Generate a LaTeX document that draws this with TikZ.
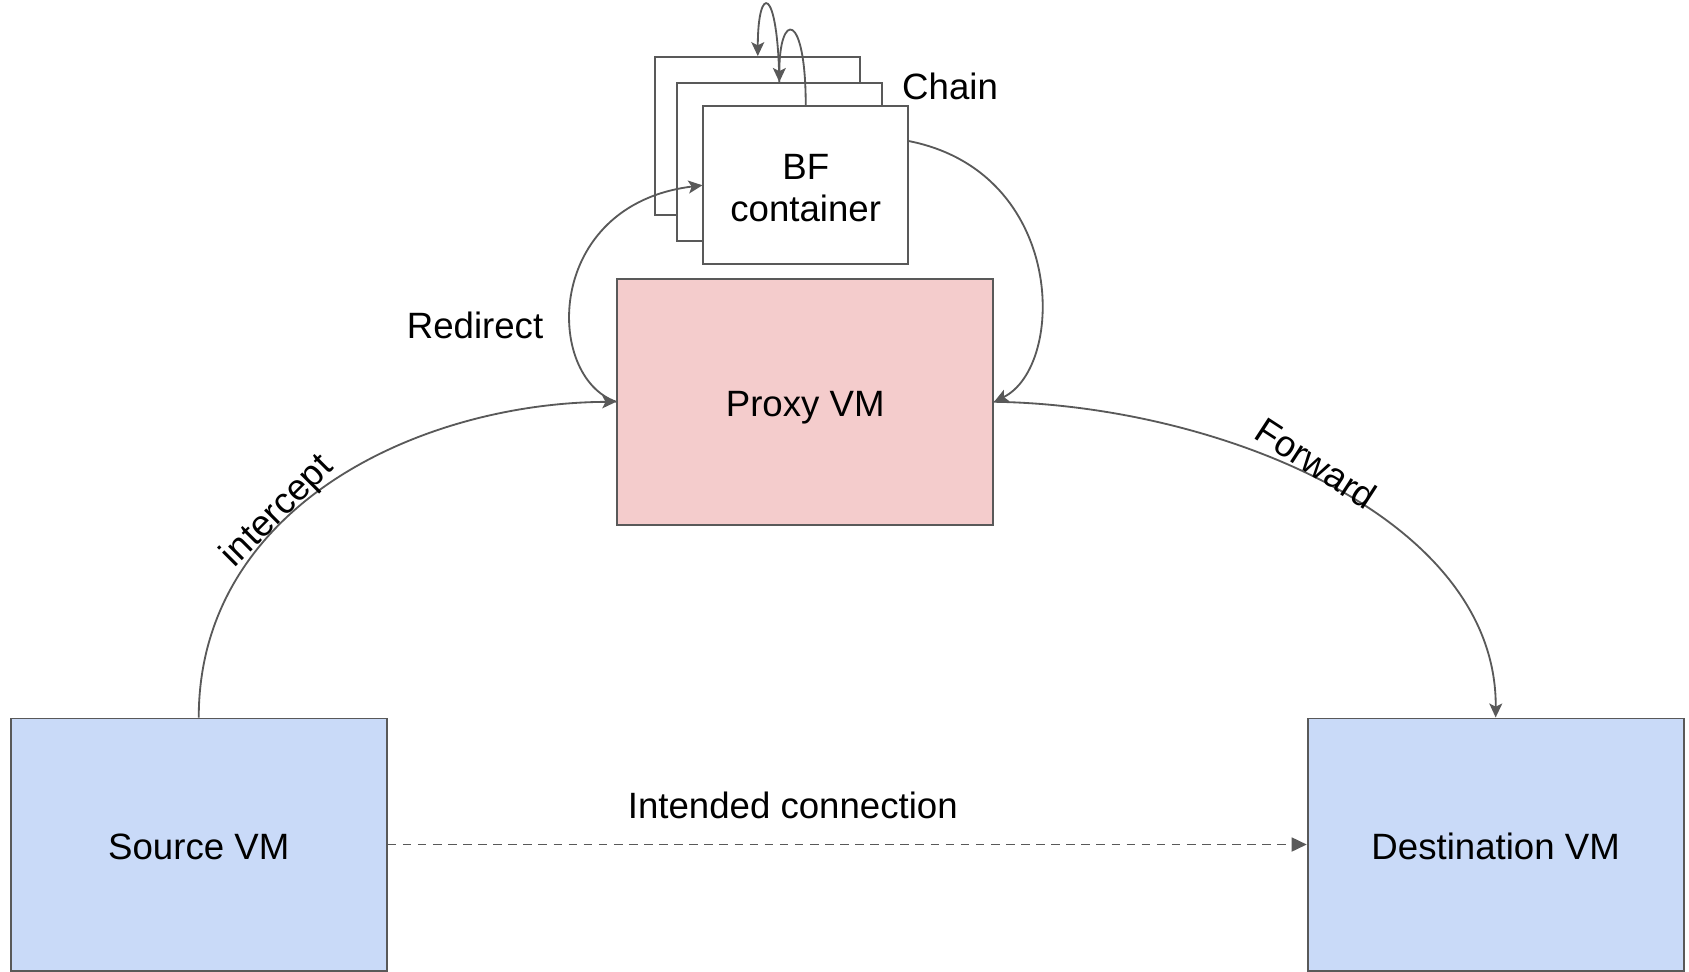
\documentclass[tikz,border=0pt]{standalone}
\usepackage{fontspec}
\setmainfont{Liberation Sans}
\usetikzlibrary{arrows.meta}
\definecolor{boxblue}{HTML}{C9DAF8}
\definecolor{boxpink}{HTML}{F4CCCC}
\definecolor{edge}{HTML}{595959}
\begin{document}
\begin{tikzpicture}[x=1pt,y=-1pt,
  font=\fontsize{34}{40}\selectfont,
  vmbox/.style={draw=edge,line width=1.8pt,inner sep=0pt,align=center,text height=34pt,text depth=7pt},
  cbox/.style={draw=edge,line width=1.8pt,fill=white,inner sep=0pt,minimum width=190pt,minimum height=147pt},
  conn/.style={draw=edge,line width=1.7pt,-{Stealth[length=13pt,width=12pt,inset=3pt]}},
  dconn/.style={draw=edge,line width=1.7pt,dash pattern=on 8pt off 6pt,-{Triangle[length=14pt,width=13pt]}},
  lbl/.style={inner sep=0pt,text=black}]
\useasboundingbox (0,0) rectangle (1568,902);
% boxes
\node[vmbox,fill=boxblue,minimum width=349pt,minimum height=234pt] (src) at (184.5,784) {Source VM};
\node[vmbox,fill=boxblue,minimum width=349pt,minimum height=234pt] (dst) at (1388.5,784) {Destination VM};
\node[vmbox,fill=boxpink,minimum width=349pt,minimum height=228pt] (proxy) at (747.5,373) {Proxy VM};
\node[cbox] (back) at (703.5,126.5) {};
\node[cbox] (mid) at (723.5,150.5) {};
\node[cbox] (front) at (748,172) {};
\node[lbl,align=center] (fronttxt) at ([yshift=-3pt]front.center) {BF\\[-1pt]container};
% connectors
\draw[dconn] (src.east) -- (dst.west);
\draw[conn] (src.north) .. controls (184.5,470) and (390,374) .. (proxy.west);
\draw[conn] (proxy.east) .. controls (1130,376) and (1390,480) .. (dst.north);
\draw[conn] (proxy.west) .. controls (505,350) and (505,190) .. (front.west);
\draw[conn] ([yshift=41pt]front.east) .. controls (990,160) and (990,340) .. (proxy.east);
\draw[conn] (front.north) .. controls (748,10) and (723.5,10) .. (mid.north);
\draw[conn] (mid.north) .. controls (722,-15) and (703.5,-15) .. (back.north);
% labels
\node[lbl] (chain) at (882,80) {Chain};
\node[lbl] (redir) at (441,302) {Redirect};
\node[lbl,rotate=45] (icpt) at (258,475) {intercept};
\node[lbl,rotate=-33] (fwd) at (1222,430) {Forward};
\node[lbl] (intended) at (736,748) {Intended connection};
\end{tikzpicture}
\end{document}
